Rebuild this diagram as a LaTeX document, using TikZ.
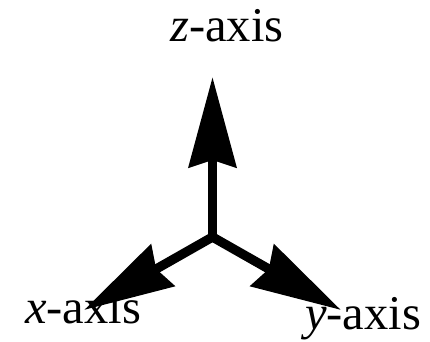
\documentclass[tikz,border=0pt]{standalone}
\usepackage{fontspec}
\setmainfont{Liberation Serif}
\usetikzlibrary{arrows.meta}
\tikzset{
  axisarrow/.style={
    -{Stealth[length=90pt, width=47pt, inset=7pt]}, line width=9.3pt, color=black
  },
  axislabel/.style={
    font=\fontsize{48.5}{51}\selectfont, anchor=base west, inner sep=0pt, color=black
  },
}

\begin{document}
\begin{tikzpicture}[x=1pt, y=-1pt]
  \useasboundingbox (0,0) rectangle (430,341);

  % Axis ends
  \coordinate (origin) at (212.5,237);
  \coordinate (xend) at (84,310);
  \coordinate (yend) at (341,310);
  \coordinate (zend) at (212.5,77);

  % Arrows
  \draw[axisarrow] (origin) -- (xend);
  \draw[axisarrow] (origin) -- (yend);
  \draw[axisarrow] (origin) -- (zend);

  % Labels
  \node[axislabel] (xlabel) at (25,323) {\textit{x}-axis};
  \node[axislabel] (ylabel) at (305,329) {\textit{y}-axis};
  \node[axislabel] (zlabel) at (170,41) {\textit{z}-axis};
\end{tikzpicture}
\end{document}
